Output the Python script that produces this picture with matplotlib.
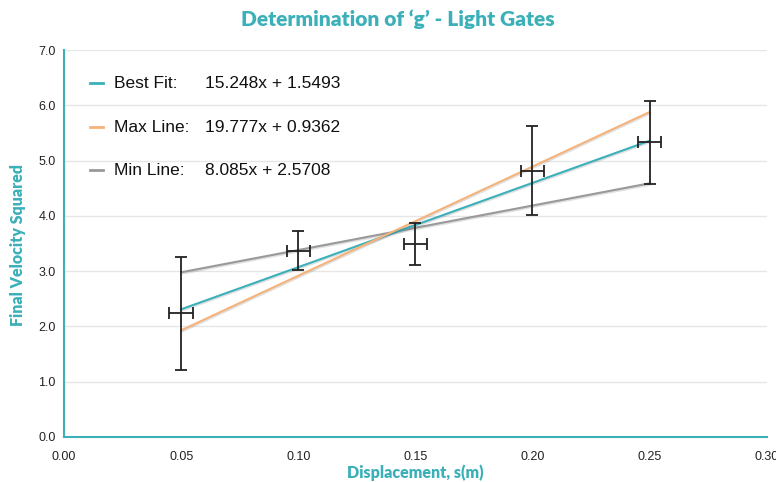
import matplotlib
matplotlib.use('Agg')
import matplotlib.pyplot as plt
import matplotlib.patheffects as pe

# measured points (displacement, velocity^2) with uncertainties
displacement = [0.05, 0.10, 0.15, 0.20, 0.25]
vel_sq = [2.24, 3.37, 3.50, 4.82, 5.33]
vel_sq_err = [1.02, 0.35, 0.38, 0.80, 0.75]
disp_err = [0.005, 0.005, 0.005, 0.005, 0.005]

# fitted lines, drawn between the first and last displacement
line_x = [0.05, 0.25]
best_fit = [2.31, 5.36]
max_line = [1.93, 5.88]
min_line = [2.98, 4.59]

line_names = ['Best Fit:', 'Max Line:', 'Min Line:']
line_eqs = ['15.248x + 1.5493', '19.777x + 0.9362', '8.085x + 2.5708']

x_ticks = [0.00, 0.05, 0.10, 0.15, 0.20, 0.25, 0.30]
y_ticks = [0.0, 1.0, 2.0, 3.0, 4.0, 5.0, 6.0, 7.0]

TEAL = '#3bb0b9'
ORANGE = '#f5b27a'
GREY = '#999999'

plt.rcParams['font.family'] = ['Liberation Sans', 'DejaVu Sans']

fig = plt.figure(figsize=(7.76, 4.82), dpi=100)
ax = fig.add_axes([0.0825, 0.0934, 0.9055, 0.8026])

for ys, col in zip([min_line, best_fit, max_line], [GREY, TEAL, ORANGE]):
    ax.plot(line_x, ys, color=col, lw=1.5, zorder=3,
            path_effects=[pe.SimpleLineShadow(offset=(0.5, -1.0), alpha=0.12), pe.Normal()])

ax.errorbar(displacement, vel_sq, yerr=vel_sq_err, xerr=disp_err, fmt='none',
            ecolor='#222222', elinewidth=1.3, capsize=4, capthick=1.3, zorder=4)

ax.set_xlim(0, 0.30)
ax.set_ylim(0, 7.0)
ax.set_xticks(x_ticks)
ax.set_xticklabels([f'{v:.2f}' for v in x_ticks])
ax.set_yticks(y_ticks)
ax.set_yticklabels([f'{v:.1f}' for v in y_ticks])
ax.tick_params(length=0, labelsize=9, colors='#222222', pad=6)
ax.tick_params(axis='x', pad=10)
ax.yaxis.grid(True, color='#e6e6e6', lw=1)
ax.set_axisbelow(True)

for s in ['top', 'right']:
    ax.spines[s].set_visible(False)
for s in ['left', 'bottom']:
    ax.spines[s].set_color(TEAL)
    ax.spines[s].set_linewidth(1.5)

fig.text(415 / 776, 1 - 473 / 482, 'Displacement, s(m)', color=TEAL, fontsize=11.5,
         fontweight='heavy', family=['Lato', 'DejaVu Sans'], ha='center', va='center')
fig.text(18 / 776, 1 - 245 / 482, 'Final Velocity Squared', color=TEAL, fontsize=11.5,
         fontweight='heavy', family=['Lato', 'DejaVu Sans'], ha='center', va='center',
         rotation=90)
fig.text(398 / 776, 1 - 19 / 482, "Determination of \u2018g\u2019 - Light Gates", color=TEAL,
         fontsize=15, fontweight='heavy', family=['Lato', 'DejaVu Sans'],
         ha='center', va='center')

# legend drawn as text beside short coloured dashes
leg_y = [83, 127, 170]
for name, eq, col, yp in zip(line_names, line_eqs, [TEAL, ORANGE, GREY], leg_y):
    yf = 1 - yp / 482
    fig.add_artist(plt.Line2D([90 / 776, 103 / 776], [yf, yf], color=col, lw=2))
    fig.text(114 / 776, yf, name, fontsize=12.5, va='center', color='#111111')
    fig.text(205 / 776, yf, eq, fontsize=12.5, va='center', color='#111111')

fig.savefig('out.png', dpi=100, facecolor='white')
